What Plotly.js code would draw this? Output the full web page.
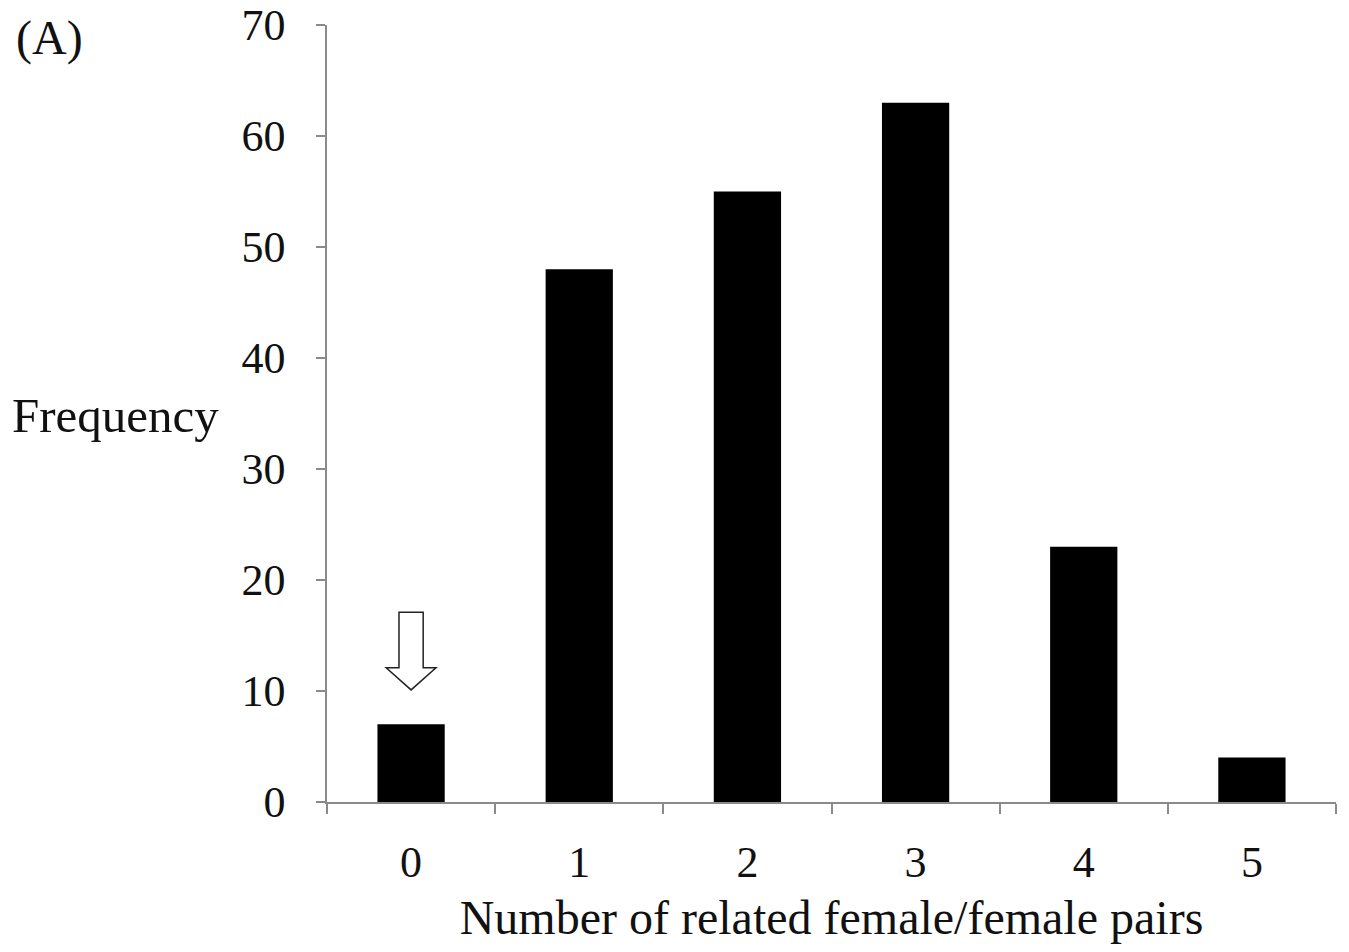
<!DOCTYPE html>
<html>
<head>
<meta charset="utf-8">
<script src="https://cdn.plot.ly/plotly-3.0.1.min.js"></script>
<style>html,body{margin:0;padding:0;background:#fff;}#chart{width:1349px;height:952px;}</style>
</head>
<body>
<div id="chart"></div>
<script>
const categories = [0, 1, 2, 3, 4, 5];
const frequency = [7, 48, 55, 63, 23, 4];
const yTicks = [0, 10, 20, 30, 40, 50, 60, 70];
const boundaryTicks = [-0.5, 0.5, 1.5, 2.5, 3.5, 4.5, 5.5];

const font = {family: '"Liberation Serif", "Times New Roman", serif', color: '#111'};
const axisGrey = '#8a8a8a';

const trace = {
  type: 'bar',
  x: categories,
  y: frequency,
  marker: {color: '#000', line: {width: 0}},
  hoverinfo: 'x+y'
};

// hollow block arrow above the first bar (in data units)
const ax0 = categories[0];
const pathStr = 'M' + (ax0 - 0.072) + ',17.1 L' + (ax0 + 0.072) + ',17.1 L' + (ax0 + 0.072) + ',12.1 L' +
  (ax0 + 0.148) + ',12.1 L' + ax0 + ',10.1 L' + (ax0 - 0.148) + ',12.1 L' + (ax0 - 0.072) + ',12.1 Z';

const layout = {
  width: 1349,
  height: 952,
  margin: {l: 327, r: 13, t: 25, b: 150, pad: 0},
  paper_bgcolor: '#fff',
  plot_bgcolor: '#fff',
  showlegend: false,
  bargap: 0.6,
  font: Object.assign({size: 44}, font),
  xaxis: {
    type: 'linear',
    range: [-0.5, 5.5],
    tickmode: 'array',
    tickvals: categories,
    ticktext: categories.map(String),
    ticks: '',
    ticklabelstandoff: 20,
    tickfont: Object.assign({size: 44}, font),
    showline: true,
    linecolor: axisGrey,
    linewidth: 1.5,
    showgrid: false,
    zeroline: false,
    minor: {tickmode: 'array', tickvals: boundaryTicks, ticks: 'outside', ticklen: 10, tickcolor: axisGrey, tickwidth: 1.5, showgrid: false},
    title: {text: 'Number of related female/female pairs', font: Object.assign({size: 48}, font), standoff: 15},
    fixedrange: true
  },
  yaxis: {
    range: [0, 70],
    tickmode: 'array',
    tickvals: yTicks,
    ticks: 'outside',
    ticklen: 9,
    tickwidth: 1.5,
    tickcolor: axisGrey,
    ticklabelstandoff: 22,
    tickfont: Object.assign({size: 44}, font),
    showline: true,
    linecolor: axisGrey,
    linewidth: 1.5,
    showgrid: false,
    zeroline: false,
    fixedrange: true
  },
  shapes: [{
    type: 'path',
    xref: 'x', yref: 'y',
    path: pathStr,
    line: {color: '#222', width: 1.5},
    fillcolor: '#fff'
  }],
  annotations: [
    {text: 'Frequency', xref: 'paper', yref: 'paper', x: -0.314, y: 0.497, xanchor: 'left', yanchor: 'middle', showarrow: false, font: Object.assign({size: 49}, font)},
    {text: '(A)', xref: 'paper', yref: 'paper', x: -0.31, y: 0.983, xanchor: 'left', yanchor: 'middle', showarrow: false, font: Object.assign({size: 48}, font)}
  ]
};

Plotly.newPlot('chart', [trace], layout, {displayModeBar: false, responsive: false});
</script>
</body>
</html>
